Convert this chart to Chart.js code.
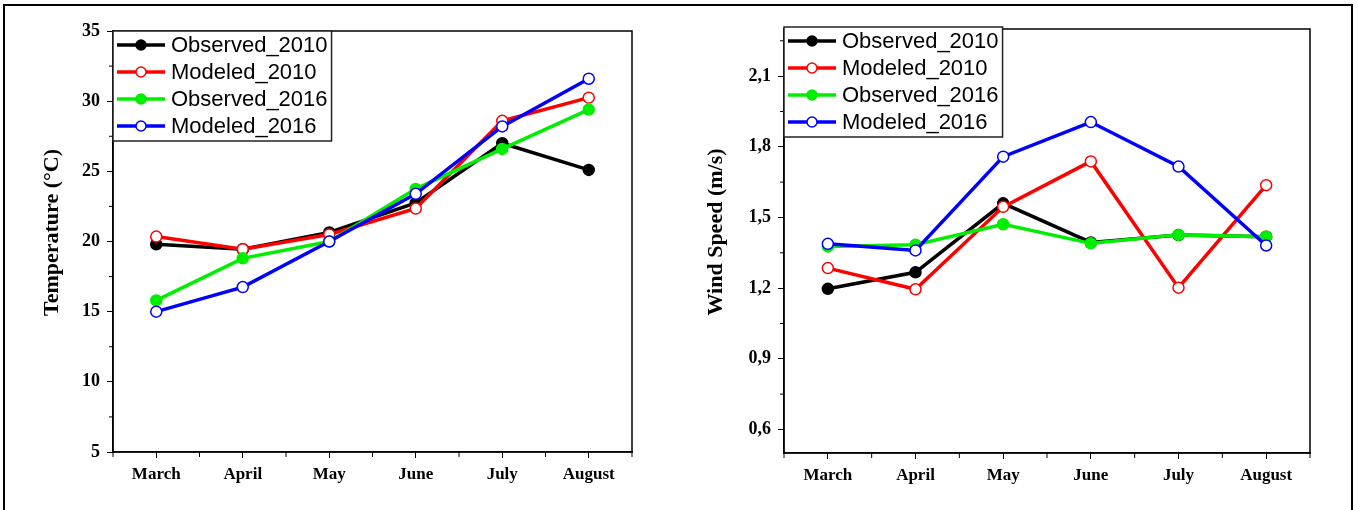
<!doctype html>
<html>
<head>
<title>Temperature and Wind Speed</title>
<script src="https://cdn.jsdelivr.net/npm/chart.js@4/dist/chart.umd.min.js"></script>
<style>
	body { margin: 0; background: #fff; }
	#frame { position: absolute; left: 3px; top: 4px; width: 1346px; height: 530px; border: 2px solid #000; }
	canvas { position: absolute; top: 0; }
</style>
</head>
<body>
<div id="frame"></div>
<canvas id="temp" width="679" height="510" style="left:0"></canvas>
<canvas id="wind" width="679" height="510" style="left:679px"></canvas>
<script>
var months = ['March', 'April', 'May', 'June', 'July', 'August'];
var seriesNames = ['Observed_2010', 'Modeled_2010', 'Observed_2016', 'Modeled_2016'];

// temperature (°C)
var tempObs2010 = [19.8, 19.45, 20.65, 22.75, 27.0, 25.1];
var tempMod2010 = [20.35, 19.45, 20.5, 22.35, 28.6, 30.25];
var tempObs2016 = [15.8, 18.8, 20.0, 23.75, 26.6, 29.4];
var tempMod2016 = [15.0, 16.75, 20.0, 23.4, 28.2, 31.6];
var tempTicks = [5, 10, 15, 20, 25, 30, 35];

// wind speed (m/s)
var windObs2010 = [1.197, 1.267, 1.56, 1.394, 1.425, 1.418];
var windMod2010 = [1.285, 1.195, 1.545, 1.738, 1.202, 1.637];
var windObs2016 = [1.377, 1.384, 1.471, 1.39, 1.426, 1.418];
var windMod2016 = [1.388, 1.36, 1.758, 1.905, 1.716, 1.381];
var windTicks = [0.6, 0.9, 1.2, 1.5, 1.8, 2.1];

var colors = ['#000000', '#ff0000', '#00ee00', '#0000ff'];
var filled = [true, false, true, false];
var drawOrder = [4, 3, 2, 1];

var serif = '"Liberation Serif", "Times New Roman", serif';

function makeDatasets(series) {
	return series.map(function(vals, i) {
		return {
			label: seriesNames[i],
			data: vals,
			order: drawOrder[i],
			borderColor: colors[i],
			borderWidth: 3.5,
			pointRadius: 5.5,
			pointHoverRadius: 5.5,
			pointBorderWidth: 1.5,
			pointBorderColor: colors[i],
			pointBackgroundColor: filled[i] ? colors[i] : '#ffffff',
			tension: 0,
			fill: false
		};
	});
}

var framePlugin = {
	id: 'framePlugin',
	afterDraw: function(chart, args, opts) {
		var ctx = chart.ctx, a = chart.chartArea;
		var xs = chart.scales.x, ys = chart.scales.y;
		ctx.save();
		ctx.strokeStyle = '#000';
		ctx.lineWidth = 1.5;
		ctx.strokeRect(a.left, a.top, a.right - a.left, a.bottom - a.top);

		// minor ticks
		ctx.lineWidth = 1;
		ctx.beginPath();
		for (var i = 0; i <= months.length; i++) {
			var px = xs.getPixelForValue(i - 0.5);
			ctx.moveTo(px, a.bottom);
			ctx.lineTo(px, a.bottom + 5);
		}
		var t = opts.ticks, step = t[1] - t[0];
		for (var v = t[0] - step / 2; v <= ys.max + 1e-9; v += step) {
			if (v < ys.min) continue;
			var py = ys.getPixelForValue(v);
			ctx.moveTo(a.left, py);
			ctx.lineTo(a.left - 4, py);
		}
		ctx.stroke();

		// y axis title
		ctx.save();
		ctx.translate(opts.titleX, (a.top + a.bottom) / 2 - 9);
		ctx.rotate(-Math.PI / 2);
		ctx.font = 'bold 22px ' + serif;
		ctx.fillStyle = '#000';
		ctx.textAlign = 'center';
		ctx.textBaseline = 'middle';
		ctx.fillText(opts.title, 0, 0);
		ctx.restore();

		// legend box
		ctx.font = '22px "Liberation Sans", Arial, sans-serif';
		var sets = chart.data.datasets;
		var tw = 0;
		sets.forEach(function(d) { tw = Math.max(tw, ctx.measureText(d.label).width); });
		var bx = a.left, by = a.top + opts.legendDy, bw = 59 + tw + 3, bh = 110;
		ctx.fillStyle = '#fff';
		ctx.fillRect(bx, by, bw, bh);
		ctx.strokeStyle = '#222';
		ctx.lineWidth = 1.5;
		ctx.strokeRect(bx, by, bw, bh);
		sets.forEach(function(d, i) {
			var cy = by + 14 + i * 27;
			ctx.strokeStyle = d.borderColor;
			ctx.lineWidth = 3.5;
			ctx.beginPath();
			ctx.moveTo(bx + 4, cy);
			ctx.lineTo(bx + 52, cy);
			ctx.stroke();
			ctx.beginPath();
			ctx.arc(bx + 28, cy, 5, 0, Math.PI * 2);
			ctx.fillStyle = d.pointBackgroundColor;
			ctx.fill();
			ctx.lineWidth = 1.5;
			ctx.strokeStyle = d.pointBorderColor;
			ctx.stroke();
			ctx.fillStyle = '#000';
			ctx.textBaseline = 'middle';
			ctx.textAlign = 'left';
			ctx.fillText(d.label, bx + 58, cy + 1);
		});
		ctx.restore();
	}
};

function makeChart(id, series, yTicks, yMin, yMax, title, pad, yWidth, fmt, legendDy, titleX) {
	var ctx = document.getElementById(id).getContext('2d');
	return new Chart(ctx, {
		type: 'line',
		data: { labels: months, datasets: makeDatasets(series) },
		options: {
			responsive: false,
			animation: false,
			devicePixelRatio: 1,
			layout: { padding: pad },
			plugins: {
				legend: { display: false },
				tooltip: { enabled: false },
				framePlugin: { ticks: yTicks, legendDy: legendDy, title: title, titleX: titleX }
			},
			scales: {
				x: {
					type: 'category',
					offset: true,
					grid: { drawOnChartArea: false, drawTicks: true, tickLength: 6, color: '#000', lineWidth: 1 },
					border: { display: true, color: '#000', width: 1.5 },
					ticks: { color: '#000', padding: 6, maxRotation: 0, font: { family: serif, size: 17, weight: 'bold' } },
					afterFit: function(s) { s.height = 40; }
				},
				y: {
					type: 'linear',
					min: yMin,
					max: yMax,
					afterBuildTicks: function(s) {
						s.ticks = yTicks.map(function(v) { return { value: v }; });
					},
					grid: { drawOnChartArea: false, drawTicks: true, tickLength: 6, color: '#000', lineWidth: 1 },
					border: { display: true, color: '#000', width: 1.5 },
					ticks: { color: '#000', padding: 7, font: { family: serif, size: 18, weight: 'bold' }, callback: fmt },
					afterFit: function(s) { s.width = yWidth; }
				}
			}
		},
		plugins: [framePlugin]
	});
}

window.onload = function() {
	window.tempChart = makeChart('temp',
		[tempObs2010, tempMod2010, tempObs2016, tempMod2016],
		tempTicks, 5, 35, 'Temperature (°C)',
		{ left: 38, right: 47, top: 31, bottom: 18 }, 75,
		function(v) { return String(v); }, 0, 52);
	window.windChart = makeChart('wind',
		[windObs2010, windMod2010, windObs2016, windMod2016],
		windTicks, 0.5, 2.3, 'Wind Speed (m/s)',
		{ left: 24, right: 48, top: 29, bottom: 17 }, 81,
		function(v) { return v.toFixed(1).replace('.', ','); }, -2, 37);
};
</script>
</body>
</html>
